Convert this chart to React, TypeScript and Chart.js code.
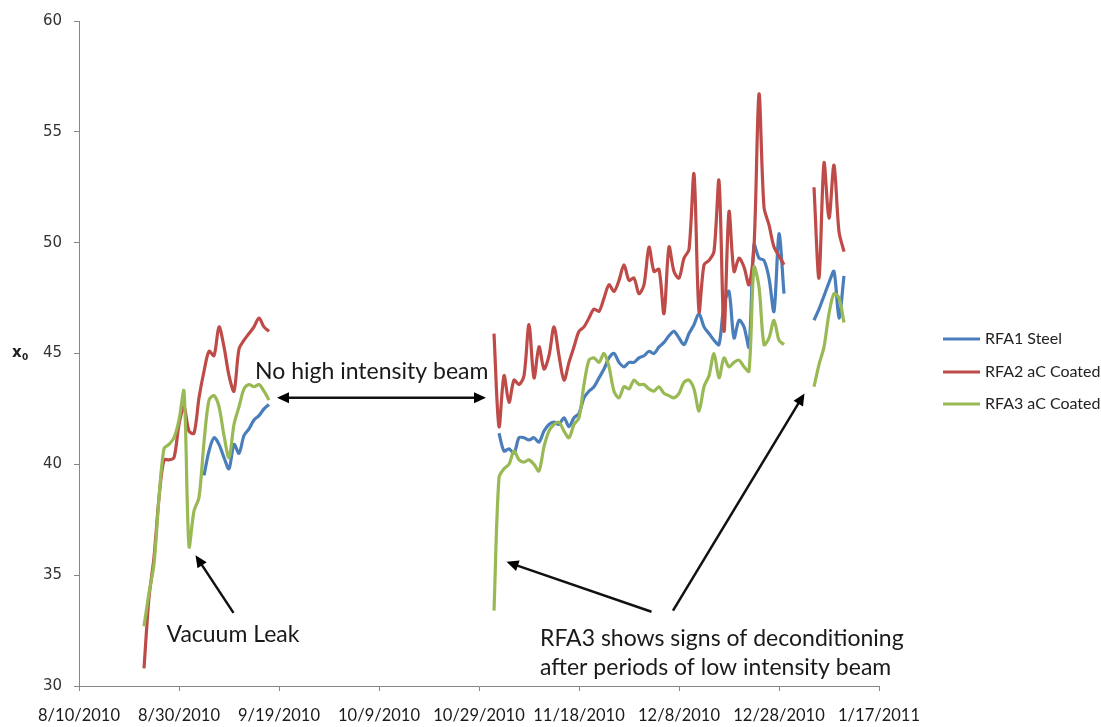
import React, { useEffect, useRef } from "react";
import { Chart, registerables } from "chart.js";

Chart.register(...registerables);

// ---- axis definition (x = days since 8/10/2010) ----
const AXIS_START_UTC = Date.UTC(2010, 7, 10);
const xMinDay = 0;
const xMaxDay = 160;
const xStepDays = 20;
const yMin = 30;
const yMax = 60;
const yStep = 5;

// ---- series ----
const seriesLabels = ["RFA1 Steel", "RFA2 aC Coated", "RFA3 aC Coated"];
const seriesColors = ["#4A7EBB", "#BE4B48", "#98B954"];

// daily readings; each segment starts on the given day
const steelStarts = [25, 84, 147];
const steelSeg1 = [39.5, 40.6, 41.2, 40.9, 40.3, 39.8, 40.9, 40.5, 41.3, 41.6, 42.0, 42.2, 42.5, 42.7];
const steelSeg2 = [
  41.4, 40.6, 40.7, 40.5, 41.2, 41.2, 41.1, 41.2, 41.0, 41.5,
  41.8, 41.9, 41.8, 42.1, 41.7, 42.1, 42.3, 43.0, 43.3, 43.5,
  43.9, 44.3, 44.8, 45.0, 44.6, 44.4, 44.6, 44.6, 44.8, 44.9,
  45.1, 45.0, 45.3, 45.5, 45.8, 46.0, 45.7, 45.4, 45.9, 46.3,
  46.8, 46.2, 45.9, 45.6, 45.4, 47.2, 47.8, 45.7, 46.5, 46.2,
  45.3, 49.9, 49.3, 49.2, 48.4, 46.9, 50.4, 47.7,
];
const steelSeg3 = [46.5, 47.0, 47.6, 48.2, 48.7, 46.6, 48.5];

const coated2Starts = [13, 83, 147];
const coated2Seg1 = [
  30.8, 34.0, 35.8, 38.5, 40.2, 40.2, 40.3, 41.8, 42.6, 41.5,
  41.4, 43.0, 44.2, 45.1, 44.9, 46.2, 45.3, 44.0, 43.3, 45.2,
  45.6, 45.9, 46.2, 46.6, 46.2, 46.0,
];
const coated2Seg2 = [
  45.9, 41.7, 44.0, 42.8, 43.8, 43.6, 44.0, 46.3, 43.9, 45.3,
  44.3, 44.9, 46.2, 44.9, 43.8, 44.6, 45.3, 46.0, 46.2, 46.6,
  47.0, 46.9, 47.5, 48.1, 47.8, 48.3, 49.0, 48.3, 48.4, 47.7,
  48.1, 49.8, 48.7, 48.8, 46.8, 49.8, 48.7, 48.4, 49.3, 49.7,
  53.1, 46.9, 49.0, 49.2, 49.6, 52.8, 46.0, 51.4, 48.7, 49.3,
  48.9, 48.1, 49.8, 56.7, 51.6, 50.8, 49.8, 49.4, 49.0,
];
const coated2Seg3 = [52.5, 48.4, 53.6, 51.1, 53.5, 50.5, 49.6];

const coated3Starts = [13, 83, 147];
const coated3Seg1 = [
  32.7, 34.2, 35.5, 38.5, 40.7, 40.9, 41.2, 42.0, 43.3, 36.3,
  37.9, 38.5, 41.0, 42.9, 43.1, 42.6, 41.3, 40.3, 41.8, 42.6,
  43.4, 43.6, 43.5, 43.6, 43.3, 42.9,
];
const coated3Seg2 = [
  33.4, 39.4, 39.8, 40.0, 40.6, 40.2, 40.1, 40.2, 40.0, 39.7,
  40.8, 41.5, 41.8, 41.9, 41.5, 41.2, 41.8, 42.1, 43.6, 44.7,
  44.8, 44.6, 45.0, 44.4, 43.3, 43.0, 43.5, 43.4, 43.8, 43.6,
  43.6, 43.4, 43.3, 43.5, 43.2, 43.1, 43.0, 43.2, 43.7, 43.8,
  43.4, 42.4, 43.5, 44.0, 45.0, 43.9, 44.8, 44.4, 44.6, 44.7,
  44.4, 44.2, 48.9, 48.0, 45.4, 45.7, 46.5, 45.6, 45.4,
];
const coated3Seg3 = [43.5, 44.5, 45.3, 46.8, 47.7, 47.5, 46.4];

// ---- annotations (anchored in data units: [day, value]) ----
const beamLabel = "No high intensity beam";
const beamLabelAt = [35.2, 44.2];
const beamArrow = { from: [39.6, 43.0], to: [81.4, 43.0] };
const leakLabel = "Vacuum Leak";
const leakLabelAt = [17.5, 32.3];
const leakArrow = { from: [30.9, 33.3], to: [23.3, 35.9] };
const decondLines = ["RFA3 shows signs of deconditioning", "after periods of low intensity beam"];
const decondLineAt = [[92.2, 32.15], [92.2, 30.85]];
const decondArrows = [
  { from: [114.5, 33.35], to: [85.5, 35.6] },
  { from: [118.8, 33.4], to: [145.1, 43.2] },
];

const formatDay = (day: number) => {
  const d = new Date(AXIS_START_UTC + day * 86400000);
  return `${d.getUTCMonth() + 1}/${d.getUTCDate()}/${d.getUTCFullYear()}`;
};

const buildPoints = (starts: number[], segs: number[][]) => {
  const pts: { x: number; y: number | null }[] = [];
  segs.forEach((seg, k) => {
    if (k > 0) pts.push({ x: starts[k] - 0.5, y: null });
    seg.forEach((v, i) => pts.push({ x: starts[k] + i, y: v }));
  });
  return pts;
};

const drawArrow = (ctx: CanvasRenderingContext2D, x1: number, y1: number, x2: number, y2: number, both: boolean) => {
  const head = 12;
  const half = 5.5;
  const ang = Math.atan2(y2 - y1, x2 - x1);
  const tip = (tx: number, ty: number, a: number) => {
    ctx.beginPath();
    ctx.moveTo(tx, ty);
    ctx.lineTo(tx - head * Math.cos(a) + half * Math.sin(a), ty - head * Math.sin(a) - half * Math.cos(a));
    ctx.lineTo(tx - head * Math.cos(a) - half * Math.sin(a), ty - head * Math.sin(a) + half * Math.cos(a));
    ctx.closePath();
    ctx.fill();
  };
  const sx = both ? x1 + (head - 2) * Math.cos(ang) : x1;
  const sy = both ? y1 + (head - 2) * Math.sin(ang) : y1;
  const ex = x2 - (head - 2) * Math.cos(ang);
  const ey = y2 - (head - 2) * Math.sin(ang);
  ctx.beginPath();
  ctx.moveTo(sx, sy);
  ctx.lineTo(ex, ey);
  ctx.stroke();
  tip(x2, y2, ang);
  if (both) tip(x1, y1, ang + Math.PI);
};

const overlayPlugin = {
  id: "overlay",
  afterDatasetsDraw(chart: any) {
    const { ctx, scales } = chart;
    const xs = scales.x;
    const ys = scales.y;
    const px = (p: number[]) => [xs.getPixelForValue(p[0]), ys.getPixelForValue(p[1])];
    ctx.save();

    // annotations
    ctx.fillStyle = "#1a1a1a";
    ctx.strokeStyle = "#111";
    ctx.lineWidth = 2.5;
    ctx.textBaseline = "middle";
    ctx.textAlign = "left";
    ctx.font = "23px Lato";
    let p = px(beamLabelAt);
    ctx.fillText(beamLabel, p[0], p[1]);
    p = px(leakLabelAt);
    ctx.fillText(leakLabel, p[0], p[1]);
    decondLines.forEach((t, i) => {
      const q = px(decondLineAt[i]);
      ctx.fillText(t, q[0], q[1]);
    });
    ctx.fillStyle = "#000";
    let a = px(beamArrow.from);
    let b = px(beamArrow.to);
    drawArrow(ctx, a[0], a[1], b[0], b[1], true);
    a = px(leakArrow.from);
    b = px(leakArrow.to);
    drawArrow(ctx, a[0], a[1], b[0], b[1], false);
    decondArrows.forEach((ar) => {
      const f = px(ar.from);
      const t = px(ar.to);
      drawArrow(ctx, f[0], f[1], t[0], t[1], false);
    });

    // y-axis title x0
    ctx.fillStyle = "#222";
    ctx.font = "bold 15px 'DejaVu Sans'";
    const ty = ys.getPixelForValue(45);
    ctx.fillText("x", 12, ty);
    ctx.font = "bold 9px 'DejaVu Sans'";
    ctx.fillText("0", 22, ty + 4);

    // legend
    const rows = [339, 372, 404];
    ctx.font = "16px Lato";
    seriesLabels.forEach((lab, i) => {
      ctx.strokeStyle = seriesColors[i];
      ctx.lineWidth = 3;
      ctx.beginPath();
      ctx.moveTo(943, rows[i]);
      ctx.lineTo(980, rows[i]);
      ctx.stroke();
      ctx.fillStyle = "#222";
      ctx.fillText(lab, 985, rows[i]);
    });
    ctx.restore();
  },
};

export default function App() {
  const ref = useRef<HTMLCanvasElement | null>(null);
  useEffect(() => {
    if (!ref.current) return;
    const allStarts = [steelStarts, coated2Starts, coated3Starts];
    const allSegs = [
      [steelSeg1, steelSeg2, steelSeg3],
      [coated2Seg1, coated2Seg2, coated2Seg3],
      [coated3Seg1, coated3Seg2, coated3Seg3],
    ];
    const axisColor = "#868686";
    const chart = new Chart(ref.current, {
      type: "line",
      data: {
        datasets: seriesLabels.map((label, i) => ({
          label,
          data: buildPoints(allStarts[i], allSegs[i]),
          borderColor: seriesColors[i],
          backgroundColor: seriesColors[i],
          borderWidth: 3.2,
          pointRadius: 0,
          tension: 0.3,
          spanGaps: false,
          order: 2 - i,
        })),
      },
      options: {
        animation: false,
        responsive: false,
        events: [],
        layout: { padding: { top: 20, right: 222, left: 0, bottom: 0 } },
        plugins: { legend: { display: false }, tooltip: { enabled: false }, title: { display: false } },
        scales: {
          x: {
            type: "linear",
            min: xMinDay,
            max: xMaxDay,
            afterFit: (s: any) => { s.height = 41; },
            ticks: {
              stepSize: xStepDays,
              autoSkip: false,
              maxRotation: 0,
              padding: 15,
              color: "#1a1a1a",
              font: { family: "Lato", size: 16.5 },
              callback: (v: any) => formatDay(Number(v)),
            },
            grid: { drawOnChartArea: false, drawTicks: true, tickLength: 5, color: axisColor },
            border: { color: axisColor, width: 1 },
          },
          y: {
            type: "linear",
            min: yMin,
            max: yMax,
            afterFit: (s: any) => { s.width = 79; },
            ticks: {
              stepSize: yStep,
              padding: 12,
              color: "#333",
              font: { family: "DejaVu Sans", size: 15 },
            },
            grid: { drawOnChartArea: false, drawTicks: true, tickLength: 5, color: axisColor },
            border: { color: axisColor, width: 1 },
          },
        },
      },
      plugins: [overlayPlugin],
    });
    return () => chart.destroy();
  }, []);

  return (
    <div style={{ position: "fixed", left: 0, top: 0, width: 1101, height: 727, background: "#fff" }}>
      <canvas ref={ref} width={1101} height={727} style={{ display: "block" }} />
    </div>
  );
}
